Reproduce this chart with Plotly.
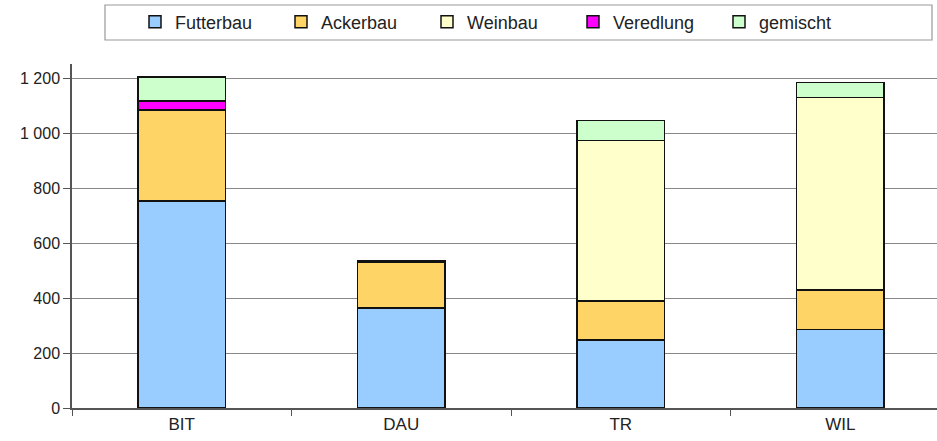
import plotly.graph_objects as go

categories = ["BIT", "DAU", "TR", "WIL"]
futterbau = [753, 364, 247, 286]
ackerbau = [331, 167, 142, 143]
weinbau = [0, 2, 583, 701]
veredlung = [32, 0, 0, 0]
gemischt = [88, 2, 73, 54]
y_ticks = [0, 200, 400, 600, 800, 1000, 1200]

series = [
    ("Futterbau", futterbau, "#99CCFF"),
    ("Ackerbau", ackerbau, "#FFD466"),
    ("Weinbau", weinbau, "#FFFFCC"),
    ("Veredlung", veredlung, "#FF00FF"),
    ("gemischt", gemischt, "#CCFFCC"),
]

fig = go.Figure()
for name, vals, col in series:
    fig.add_trace(go.Bar(
        x=categories, y=vals, name=name, width=0.4,
        marker=dict(color=col, line=dict(color="#111111", width=1.5)),
    ))

W, H = 937, 441
ml, mr, mt, mb = 72, 0, 64, 33
pw = W - ml - mr
ph = H - mt - mb
fig.update_layout(
    width=W, height=H,
    barmode="stack",
    plot_bgcolor="white", paper_bgcolor="white",
    margin=dict(l=ml, r=mr, t=mt, b=mb, autoexpand=False),
    separators=", ",
    font=dict(family="Liberation Sans, Arial, sans-serif", size=17, color="#222222"),
    showlegend=True,
    legend=dict(
        orientation="h", xref="container", x=135 / W, xanchor="left",
        yref="container", y=1 - 22 / H, yanchor="middle",
        entrywidth=101, entrywidthmode="pixels",
        font=dict(size=18), bgcolor="rgba(0,0,0,0)", borderwidth=0,
        traceorder="normal", itemwidth=30,
    ),
    xaxis=dict(
        range=[-0.5, -0.5 + pw / 219.5], showgrid=False, showline=True,
        linecolor="#555555", linewidth=1.5,
        ticks="outside", tickson="boundaries", ticklen=6, tickcolor="#555555",
        tickfont=dict(size=17), fixedrange=True, automargin=False,
    ),
    yaxis=dict(
        range=[0, 1251], tickvals=y_ticks, tickformat=",d",
        showgrid=True, gridcolor="#888888", gridwidth=1.2,
        showline=True, linecolor="#555555", linewidth=1.5,
        ticks="outside", ticklen=7, tickcolor="#555555",
        tickfont=dict(size=16), zeroline=False, automargin=False,
    ),
)

# legend frame
fig.add_shape(type="rect", xref="paper", yref="paper",
              x0=(105 - ml) / pw, x1=(932 - ml) / pw,
              y0=(H - mb - 40) / ph, y1=(H - mb - 5) / ph,
              line=dict(color="#999999", width=1.2), fillcolor="rgba(0,0,0,0)", layer="above")

fig.write_html("out.html", config={"displayModeBar": False},
               post_script="document.body.style.margin='0';")
